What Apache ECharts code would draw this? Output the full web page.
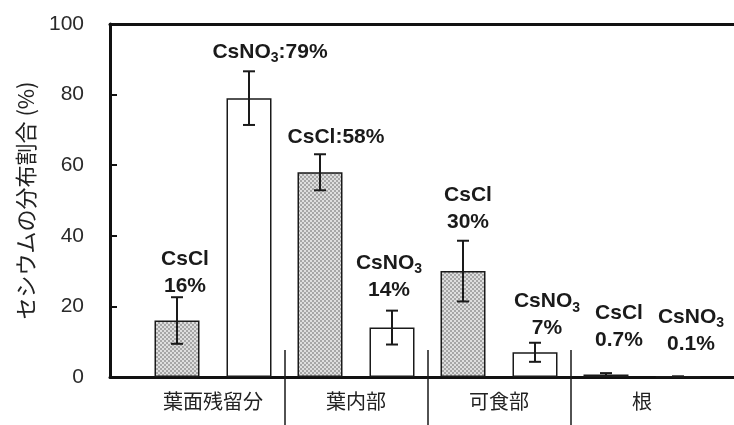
<!DOCTYPE html>
<html>
<head>
<meta charset="utf-8">
<script src="https://cdn.jsdelivr.net/npm/echarts@6/dist/echarts.min.js"></script>
<style>
html, body { margin: 0; padding: 0; background: #fff; }
#chart { width: 734px; height: 425px; }
</style>
</head>
<body>
<div id="chart"></div>
<script>
var categories = ['葉面残留分', '葉内部', '可食部', '根'];
var clValues = [16, 58, 30, 0.7];
var clErrors = [6.6, 5.1, 8.6, 0.4];
var no3Values = [79, 14, 7, 0.1];
var no3Errors = [7.6, 4.8, 2.7, 0.1];
var yMin = 0, yMax = 100, yStep = 20;
var yName = 'セシウムの分布割合 (%)';

// label placement (not data): horizontal nudge, gap above error cap, one line or two
var clLabelPos = [{dx: 8, gap: -2}, {dx: 16, gap: 4, inline: true}, {dx: 5, gap: 5}, {dx: 13, gap: 19}];
var no3LabelPos = [{dx: 21, gap: 6, inline: true}, {dx: -3, gap: 7}, {dx: 12, gap: 1}, {dx: 13, gap: 19}];

var BAR_W = 45, BAR_GAP = 27;
var INK = '#1a1a1a';
var LATIN = 'Liberation Sans';
var CJK = 'Noto Sans CJK JP';

// fine grey checker for the CsCl bars
var pat = document.createElement('canvas');
pat.width = 4; pat.height = 4;
var pctx = pat.getContext('2d');
pctx.fillStyle = '#dedede';
pctx.fillRect(0, 0, 4, 4);
pctx.fillStyle = '#a6a6a6';
pctx.fillRect(0, 0, 2, 2);
pctx.fillRect(2, 2, 2, 2);

function richName(name) {
    return name.replace(/O3$/, 'O{s|3}');
}

function errorSeries(name, side, values, errors, pos) {
    return {
        type: 'custom',
        name: name + ' err',
        xAxisIndex: 1,
        yAxisIndex: 1,
        z: 5,
        silent: true,
        data: values.map(function (v, i) { return [i, v, errors[i]]; }),
        renderItem: function (params, api) {
            var i = api.value(0), v = api.value(1), e = api.value(2);
            var top = api.coord([i, v + e]);
            var bot = api.coord([i, Math.max(v - e, 0)]);
            var x = top[0] + side * (BAR_W + BAR_GAP) / 2;
            var ls = {stroke: INK, lineWidth: 2};
            var p = pos[params.dataIndex];
            var text = richName(name) + (p.inline ? ':' : '\n') + values[params.dataIndex] + '%';
            return {
                type: 'group',
                children: [
                    {type: 'line', shape: {x1: x, y1: top[1], x2: x, y2: bot[1]}, style: ls},
                    {type: 'line', shape: {x1: x - 6, y1: top[1], x2: x + 6, y2: top[1]}, style: ls},
                    {type: 'line', shape: {x1: x - 6, y1: bot[1], x2: x + 6, y2: bot[1]}, style: ls},
                    {
                        type: 'text',
                        style: {
                            text: text,
                            x: x + p.dx,
                            y: top[1] - p.gap,
                            align: 'center',
                            verticalAlign: 'bottom',
                            fontSize: 21,
                            fontWeight: 'bold',
                            fontFamily: LATIN,
                            lineHeight: 27,
                            fill: INK,
                            rich: {
                                s: {fontSize: 14, fontWeight: 'bold', fontFamily: LATIN, fill: INK,
                                    verticalAlign: 'bottom', lineHeight: 18}
                            }
                        }
                    }
                ]
            };
        }
    };
}

var chart = echarts.init(document.getElementById('chart'));
var axisLn = {lineStyle: {color: '#111', width: 3}, onZero: false};
var boundaryTicks = categories.concat(['']).map(function () { return ''; });
var innerTick = function (idx) { return idx > 0 && idx < categories.length; };

chart.setOption({
    animation: false,
    backgroundColor: '#fff',
    grid: [
        {left: 110, right: 0, top: 24, bottom: 48},
        {left: 141.5, right: 20.5, top: 24, bottom: 48}
    ],
    xAxis: [
        {gridIndex: 0, type: 'value', min: 0, max: 1, position: 'bottom', axisLine: axisLn,
            axisTick: {show: false}, axisLabel: {show: false}, splitLine: {show: false}},
        {gridIndex: 1, type: 'category', data: categories, position: 'bottom',
            axisLine: {show: false, onZero: false}, axisTick: {show: false},
            axisLabel: {margin: 14, fontSize: 20, fontFamily: CJK, color: '#222'}},
        {gridIndex: 1, type: 'category', data: boundaryTicks, boundaryGap: false, position: 'bottom',
            axisLine: {show: false, onZero: false}, axisLabel: {show: false},
            axisTick: {show: true, interval: innerTick, inside: true, length: 27,
                lineStyle: {color: INK, width: 1.5}}},
        {gridIndex: 1, type: 'category', data: boundaryTicks, boundaryGap: false, position: 'bottom',
            axisLine: {show: false, onZero: false}, axisLabel: {show: false},
            axisTick: {show: true, interval: innerTick, inside: false, length: 48,
                lineStyle: {color: INK, width: 1.5}}},
        {gridIndex: 0, type: 'value', min: 0, max: 1, position: 'top', axisLine: axisLn,
            axisTick: {show: false}, axisLabel: {show: false}, splitLine: {show: false}}
    ],
    yAxis: [
        {gridIndex: 0, type: 'value', min: yMin, max: yMax, interval: yStep,
            axisLine: axisLn,
            axisTick: {show: true, inside: true, length: 7, lineStyle: {color: '#111', width: 2}},
            axisLabel: {margin: 26, fontSize: 21, fontFamily: LATIN, color: '#2a2a2a'},
            splitLine: {show: false},
            name: yName, nameLocation: 'middle', nameRotate: 90, nameGap: 73,
            nameTextStyle: {fontSize: 22, fontFamily: CJK, color: '#222'}},
        {gridIndex: 1, type: 'value', min: yMin, max: yMax, show: false}
    ],
    series: [
        {type: 'bar', name: 'CsCl', xAxisIndex: 1, yAxisIndex: 1, data: clValues,
            barWidth: BAR_W, barGap: (BAR_GAP / BAR_W * 100) + '%',
            itemStyle: {color: {image: pat, repeat: 'repeat'}, borderColor: INK, borderWidth: 1.5}},
        {type: 'bar', name: 'CsNO3', xAxisIndex: 1, yAxisIndex: 1, data: no3Values,
            barWidth: BAR_W, barGap: (BAR_GAP / BAR_W * 100) + '%',
            itemStyle: {color: '#fff', borderColor: INK, borderWidth: 1.5}},
        errorSeries('CsCl', -1, clValues, clErrors, clLabelPos),
        errorSeries('CsNO3', 1, no3Values, no3Errors, no3LabelPos)
    ]
});
</script>
</body>
</html>
